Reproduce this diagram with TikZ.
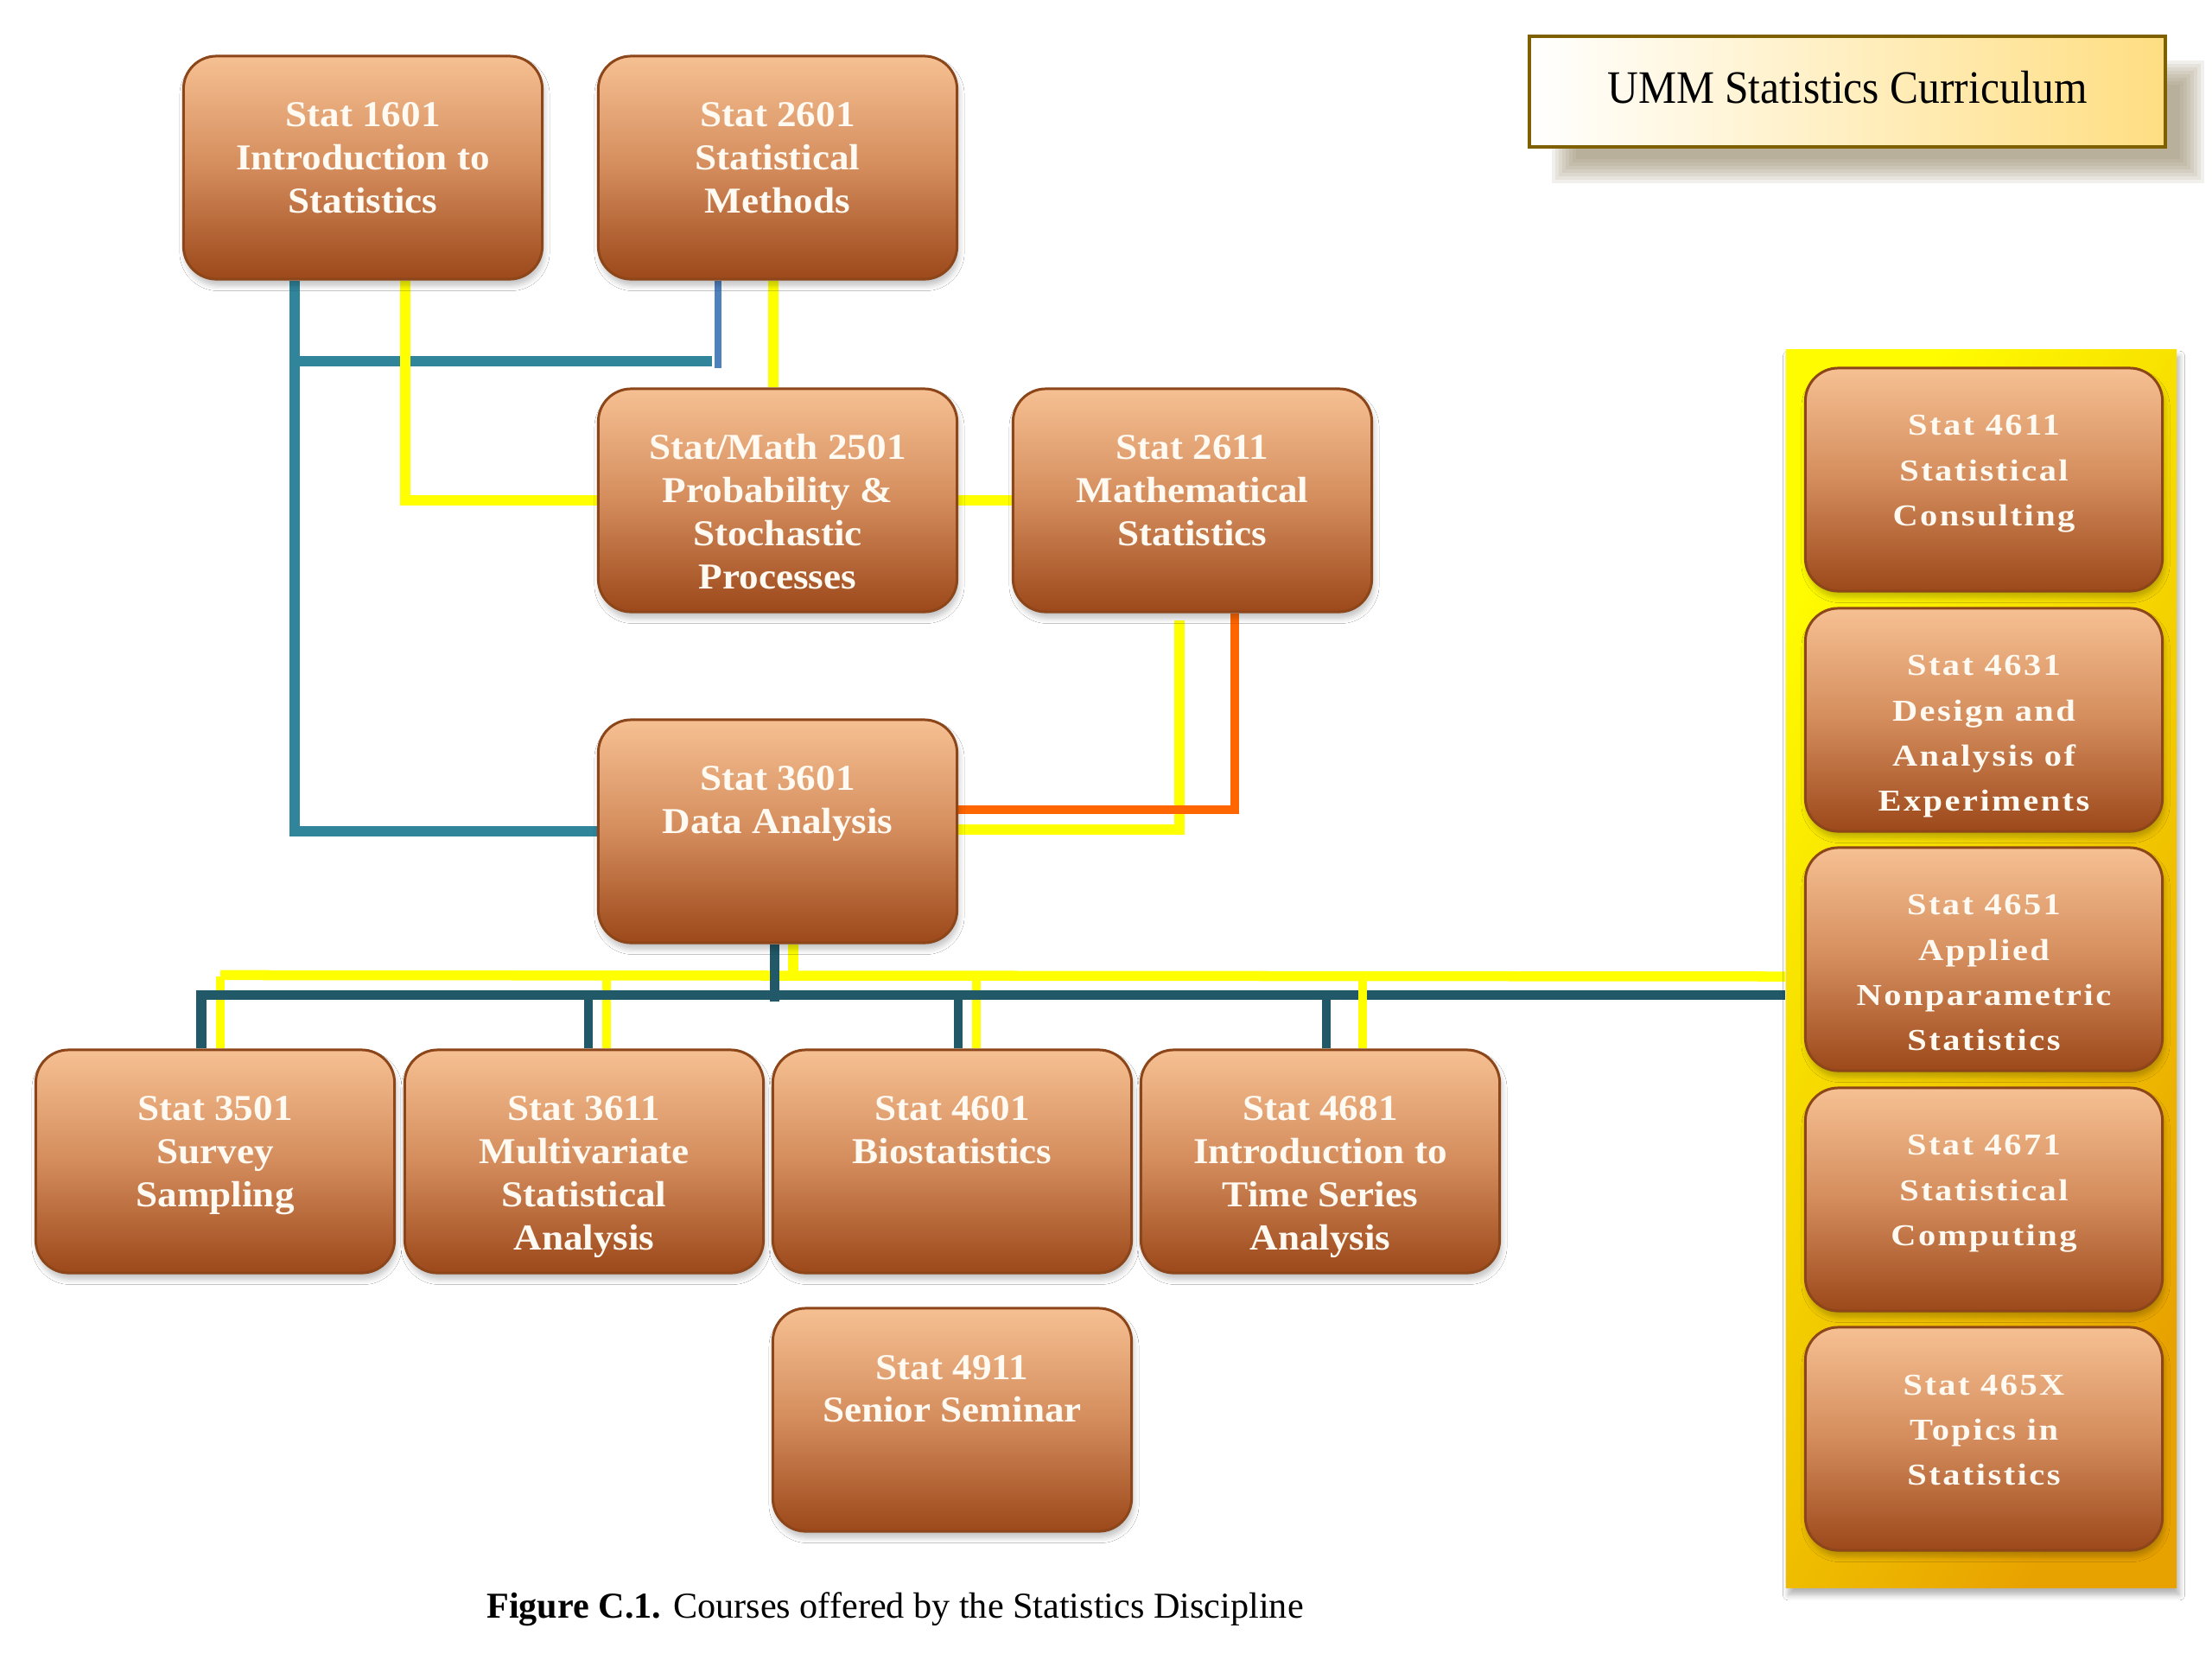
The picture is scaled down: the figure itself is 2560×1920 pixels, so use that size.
\documentclass[tikz,border=0pt]{standalone}
\usepackage{fontspec}
\setmainfont{Liberation Serif}
\newfontfamily\boxfont[FakeStretch=1.07]{Liberation Serif}
\newfontfamily\rightfont[FakeStretch=1.15,LetterSpace=7]{Liberation Serif}
\newfontfamily\titlefont[FakeStretch=0.92]{Liberation Serif}
\usetikzlibrary{shadows.blur}
\pgfdeclarelayer{background}
\pgfsetlayers{background,main}

\definecolor{boxtop}{RGB}{246,192,146}
\definecolor{boxmid}{RGB}{212,140,92}
\definecolor{boxbot}{RGB}{156,72,26}
\definecolor{boxborder}{RGB}{140,70,25}
\definecolor{boxtext}{RGB}{255,250,242}
\definecolor{tealA}{RGB}{49,133,155}
\definecolor{blueB}{RGB}{79,129,189}
\definecolor{yelC}{RGB}{255,255,0}
\definecolor{orgC}{RGB}{255,102,0}
\definecolor{tealD}{RGB}{33,89,104}
\definecolor{pyel}{RGB}{255,252,0}
\definecolor{porange}{RGB}{232,162,0}
\definecolor{titleborder}{RGB}{127,96,0}
\definecolor{titlegold}{RGB}{255,222,130}
\definecolor{tanshadow}{RGB}{150,138,105}

\newcommand\ctext[1]{\parbox[c][2.58cm][t]{4.1cm}{\centering\boxfont\bfseries\fontsize{12}{14.2}\selectfont\rule{0pt}{0.82cm}#1\par}}
\newcommand\rtext[1]{\parbox[c][2.58cm][t]{4.1cm}{\centering\rightfont\bfseries\fontsize{10}{14.8}\selectfont\rule{0pt}{0.78cm}#1\par}}

\tikzset{
  course/.style={draw=boxborder, line width=0.85pt, rounded corners=0.38cm,
    top color=boxtop, bottom color=boxbot, middle color=boxmid,
    minimum width=4.15cm, minimum height=2.58cm, inner sep=0pt, text=boxtext,
    blur shadow={shadow xshift=0.02cm, shadow yshift=-0.07cm, shadow opacity=25, shadow blur steps=6}},
  rcourse/.style={course, minimum width=4.13cm},
  panelbox/.style={minimum width=4.52cm, minimum height=14.32cm, inner sep=0pt,
    top color=pyel, bottom color=porange, shading angle=60,
    blur shadow={shadow xshift=0.03cm, shadow yshift=-0.08cm, shadow opacity=30, shadow blur steps=6}},
  titlebox/.style={draw=titleborder, line width=1.1pt, left color=white, right color=titlegold,
    minimum width=7.36cm, minimum height=1.28cm, inner sep=0pt},
  tl/.style={draw=tealA, line width=0.115cm},
  bl/.style={draw=blueB, line width=0.08cm},
  yl/.style={draw=yelC, line width=0.115cm},
  ol/.style={draw=orgC, line width=0.1cm},
  dl/.style={draw=tealD, line width=0.11cm},
  dthin/.style={draw=tealD, line width=0.1cm},
  ythin/.style={draw=yelC, line width=0.1cm},
}

\begin{document}
\begin{tikzpicture}[x=0.01cm,y=-0.01cm]
\useasboundingbox (0,0) rectangle (2560,1920);

% title shadow (soft)
\foreach \i in {0,...,7}{
  \fill[tanshadow, opacity=0.12] (1796+\i*4,70+\i*4) rectangle (2551-\i*4,212-\i*4);
}
\node[titlebox] (title) at (2138,106) {\raisebox{3pt}{\titlefont\fontsize{15.3}{18}\selectfont UMM Statistics Curriculum}};

% left / centre courses
\node[course] (s1601) at (420,194) {\ctext{Stat 1601\\Introduction to\\Statistics}};
\node[course] (s2601) at (900,194) {\ctext{Stat 2601\\Statistical\\Methods}};
\node[course] (s2501) at (900,579) {\ctext{Stat/Math 2501\\Probability \&\\Stochastic\\Processes}};
\node[course] (s2611) at (1380,579) {\ctext{Stat 2611\\Mathematical\\Statistics}};
\node[course] (s3601) at (900,962) {\ctext{Stat 3601\\Data Analysis}};
\node[course] (s3501) at (249,1344) {\ctext{Stat 3501\\Survey\\Sampling}};
\node[course] (s3611) at (676,1344) {\ctext{Stat 3611\\Multivariate\\Statistical\\Analysis}};
\node[course] (s4601) at (1102,1344) {\ctext{Stat 4601\\Biostatistics}};
\node[course] (s4681) at (1528,1344) {\ctext{Stat 4681\\Introduction to\\Time Series\\Analysis}};
\node[course] (s4911) at (1102,1643) {\ctext{Stat 4911\\Senior Seminar}};

% right panel
\node[panelbox] (panel) at (2293,1121) {};
\node[rcourse] (s4611) at (2296,555) {\rtext{Stat 4611\\Statistical\\Consulting}};
\node[rcourse] (s4631) at (2296,833) {\rtext{Stat 4631\\Design and\\Analysis of\\Experiments}};
\node[rcourse] (s4651) at (2296,1110) {\rtext{Stat 4651\\Applied\\Nonparametric\\Statistics}};
\node[rcourse] (s4671) at (2296,1388) {\rtext{Stat 4671\\Statistical\\Computing}};
\node[rcourse] (s465x) at (2296,1665) {\rtext{Stat 465X\\Topics in\\Statistics}};

% caption
\node[anchor=base, inner sep=0pt] (cap) at (1036,1872) {\fontsize{12}{14}\selectfont\textbf{Figure C.1.} Courses offered by the Statistics Discipline};

\begin{pgfonlayer}{background}
  \fill[white] (0,0) rectangle (2560,1920);
  % upper connectors
  \coordinate (j1) at (341,418);
  \draw[tl] (s1601.south -| 341,0) |- (s3601.west);
  \draw[tl] (j1) -- (824,418);
  \draw[bl] (s2601.south -| 831,0) -- ++(0,101);
  \draw[yl] (s1601.south -| 469,0) |- (s2501.west);
  \draw[yl] (s2601.south -| 895,0) -- (s2501.north -| 895,0);
  \draw[yl] (s2501.east) -- (s2611.west);
  \draw[yl] (s2611.south -| 1365,0) ++(0,8) |- (s3601.east |- 0,960);
  \draw[ol] (s2611.south -| 1429,0) |- (s3601.east |- 0,937);

  % lower buses
  \coordinate (ybus) at (918,1130);
  \coordinate (dbus) at (896,1151);
  \draw[ythin] (s3501.north -| 255,0) -- (255,1130);
  \draw[ythin] (s3611.north -| 702,0) -- (702,1130);
  \draw[ythin] (s4601.north -| 1130,0) -- (1130,1130);
  \draw[yl] (s3501.north -| 255,0) ++(0,-85) -- (panel.west |- ybus);
  \draw[yl] (s3601.south -| ybus) -- (ybus);
  \draw[dl] (s3501.north -| 233,0) |- (panel.west |- dbus);
  \draw[dthin] (s3611.north -| 681,0) -- (681,1151);
  \draw[dthin] (s4601.north -| 1109,0) -- (1109,1151);
  \draw[dthin] (s4681.north -| 1535,0) -- (1535,1151);
  \draw[dl] (s3601.south -| dbus) -- ++(0,66);
  \draw[ythin] (s4681.north -| 1577,0) -- (1577,1130);
\end{pgfonlayer}
\end{tikzpicture}
\end{document}
